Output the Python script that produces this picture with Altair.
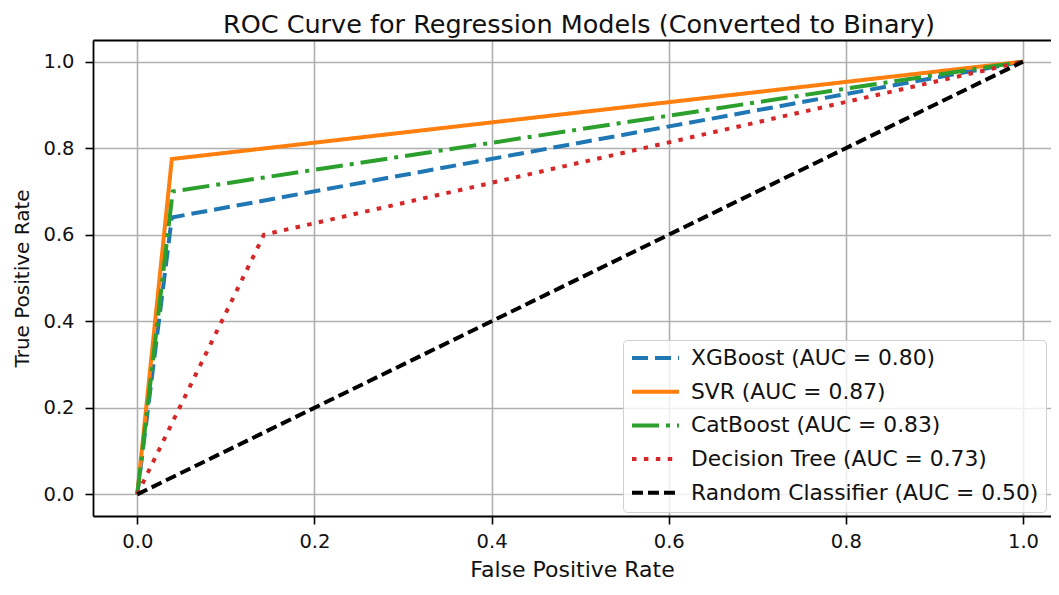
import altair as alt
import pandas as pd

# ---- data ----
models = [
    "XGBoost (AUC = 0.80)",
    "SVR (AUC = 0.87)",
    "CatBoost (AUC = 0.83)",
    "Decision Tree (AUC = 0.73)",
    "Random Classifier (AUC = 0.50)",
]
xgb_fpr = [0.0, 0.039, 1.0]
xgb_tpr = [0.0, 0.64, 1.0]
svr_fpr = [0.0, 0.039, 1.0]
svr_tpr = [0.0, 0.775, 1.0]
cat_fpr = [0.0, 0.04, 1.0]
cat_tpr = [0.0, 0.70, 1.0]
dt_fpr = [0.0, 0.143, 1.0]
dt_tpr = [0.0, 0.60, 1.0]
rand_fpr = [0.0, 1.0]
rand_tpr = [0.0, 1.0]

colors = ["#1f77b4", "#ff7f0e", "#2ca02c", "#d62728", "#000000"]
dashes = [[16, 7], [1, 0], [27, 7, 4, 7], [4.5, 7.4], [11, 5]]
widths = [4, 4, 4, 4, 3]
x_ticks = [0.0, 0.2, 0.4, 0.6, 0.8, 1.0]
y_ticks = [0.0, 0.2, 0.4, 0.6, 0.8, 1.0]

series = [
    (models[0], xgb_fpr, xgb_tpr),
    (models[1], svr_fpr, svr_tpr),
    (models[2], cat_fpr, cat_tpr),
    (models[3], dt_fpr, dt_tpr),
    (models[4], rand_fpr, rand_tpr),
]
rows = []
for k, (name, fx, ty) in enumerate(series):
    for i, (a, b) in enumerate(zip(fx, ty)):
        rows.append({"model": name, "fpr": a, "tpr": b, "ord": k, "pt": i})
df = pd.DataFrame(rows)

FONT = "DejaVu Sans"

legend = alt.Legend(
    title=None,
    orient="none",
    legendX=530,
    legendY=300,
    symbolType="stroke",
    symbolSize=2209,
    labelOffset=10,
    labelFontSize=21.8,
    labelFont=FONT,
    labelColor="#111111",
    labelLimit=600,
    clipHeight=22,
    rowPadding=10.7,
    padding=7,
    strokeColor="#d0d0d0",
    fillColor="rgba(255,255,255,0.8)",
    cornerRadius=4,
)

x_scale = alt.Scale(domain=[-0.05, 1.0316], nice=False, zero=False)
y_scale = alt.Scale(domain=[-0.05, 1.05], nice=False, zero=False)

y_axis = alt.Axis(
    values=y_ticks,
    format=".1f",
    title="True Positive Rate",
    titleBaseline="alphabetic",
    titleX=-65,
    titleFontSize=20,
    labelPadding=11,
)

lines = (
    alt.Chart(df)
    .mark_line(strokeCap="butt", strokeJoin="miter", clip=True)
    .encode(
        x=alt.X(
            "fpr:Q",
            scale=x_scale,
            axis=alt.Axis(
                values=x_ticks,
                format=".1f",
                title="False Positive Rate",
                titleBaseline="alphabetic",
                titleY=60,
                titleFontSize=22,
                labelPadding=8,
            ),
        ),
        y=alt.Y("tpr:Q", scale=y_scale, axis=y_axis),
        color=alt.Color("model:N", scale=alt.Scale(domain=models, range=colors), legend=legend),
        strokeDash=alt.StrokeDash("model:N", scale=alt.Scale(domain=models, range=dashes), legend=legend),
        strokeWidth=alt.StrokeWidth("model:N", scale=alt.Scale(domain=models, range=widths), legend=legend),
        detail="model:N",
        order="pt:Q",
    )
)

# top spine only (the reference's right spine falls outside the picture)
top_spine = (
    alt.Chart(df)
    .mark_point(opacity=0)
    .encode(
        x=alt.X(
            "fpr:Q",
            scale=x_scale,
            axis=alt.Axis(orient="top", labels=False, ticks=False, grid=False, domain=True, title=None),
        ),
        y=alt.Y("tpr:Q", scale=y_scale, axis=y_axis),
    )
)

chart = (
    alt.layer(lines, top_spine)
    .resolve_axis(x="independent")
    .properties(
        width=958,
        height=476,
        title=alt.TitleParams(
            "ROC Curve for Regression Models (Converted to Binary)",
            fontSize=25.5,
            font=FONT,
            fontWeight="normal",
            color="#111111",
            anchor="middle",
            offset=2,
            dx=7,
        ),
        autosize=alt.AutoSizeParams(type="none"),
        padding={"left": 85, "top": 32, "right": 0, "bottom": 67},
    )
    .configure_view(stroke=None)
    .configure_axis(
        domain=True,
        domainColor="black",
        domainWidth=1.8,
        grid=True,
        gridColor="#b0b0b0",
        gridWidth=1.6,
        tickColor="black",
        tickWidth=1.6,
        tickSize=8,
        labelFont=FONT,
        labelFontSize=19.5,
        labelColor="#111111",
        titleFont=FONT,
        titleFontWeight="normal",
        titleColor="#111111",
    )
)

chart.save("out.html", embed_options={"renderer": "svg", "actions": False})
